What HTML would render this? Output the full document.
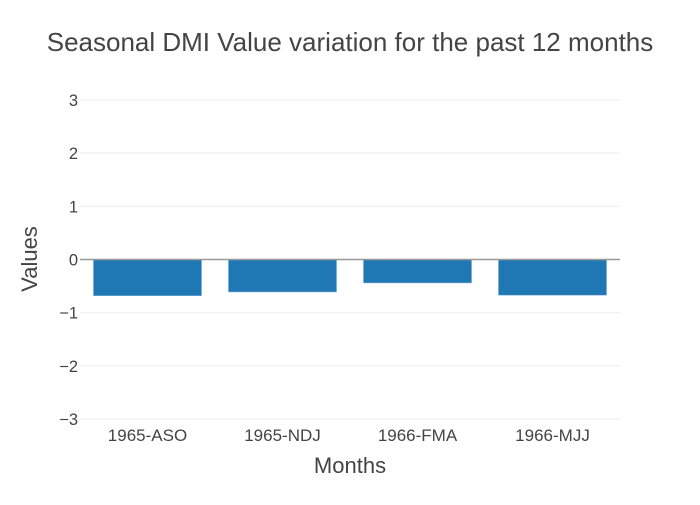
<!DOCTYPE html>
<html><head><meta charset="utf-8"><style>
body{margin:0;background:#fff;font-family:"Liberation Sans",sans-serif}
</style></head><body>
<svg id="c" width="700" height="500" xmlns="http://www.w3.org/2000/svg"></svg>
<script>
const categories=["1965-ASO","1965-NDJ","1966-FMA","1966-MJJ"];
const values=[-0.68,-0.61,-0.44,-0.67];
const yTicks=[-3,-2,-1,0,1,2,3];
const svg=document.getElementById('c');
const NS="http://www.w3.org/2000/svg";
const L=80,R=620,T=100,B=419,ymin=-3,ymax=3;
const y=v=>B-(v-ymin)/(ymax-ymin)*(B-T);
const bw=(R-L)/categories.length;
const x=i=>L+bw*(i+0.5);
function mk(t,a,txt){const e=document.createElementNS(NS,t);for(const k in a)e.setAttribute(k,a[k]);if(txt!==undefined)e.textContent=txt;svg.appendChild(e);return e;}
yTicks.forEach(v=>{
 if(v!==0){const g=mk('line',{x1:L,x2:R,y1:y(v),y2:y(v),stroke:'#eee','stroke-width':1});
 
 }
 const t=mk('text',{x:L-2,y:y(v)+6,'text-anchor':'end','font-size':16.5,fill:'#444'},v<0?'\u2212'+Math.abs(v):String(v));
 
 
});
categories.forEach((c,i)=>{
 const v=values[i];
 const r=mk('rect',{x:x(i)-bw*0.4,y:Math.min(y(v),y(0)),width:bw*0.8,height:Math.abs(y(v)-y(0)),fill:'#1f77b4',stroke:'#6ea6d3','stroke-width':0.5});
 
 
 const t=mk('text',{x:x(i),y:441,'text-anchor':'middle','font-size':17,fill:'#444'},c);
 
 
});
const z=mk('line',{x1:L,x2:R,y1:y(0),y2:y(0),stroke:'#999','stroke-width':1.5});


const ti=mk('text',{x:350,y:51,'text-anchor':'middle','font-size':26,fill:'#444'},'Seasonal DMI Value variation for the past 12 months');


const xt=mk('text',{x:350,y:473,'text-anchor':'middle','font-size':22,fill:'#444'},'Months');


const yt=mk('text',{x:37,y:259,'text-anchor':'middle','font-size':22,fill:'#444',transform:'rotate(-90 37 259)'},'Values');


</script>
</body></html>
